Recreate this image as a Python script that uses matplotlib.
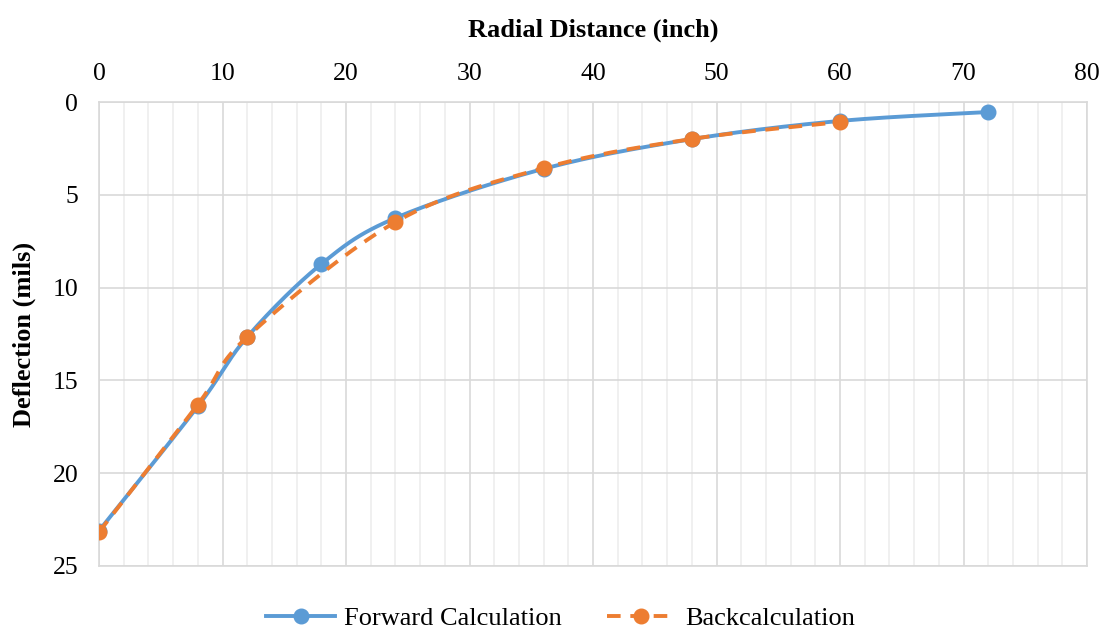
import matplotlib.pyplot as plt
import numpy as np
from matplotlib.ticker import MultipleLocator

plt.rcParams["font.family"] = ["Liberation Serif", "DejaVu Serif"]

# radial distance (inch) and deflection (mils)
fwd_x = [0, 8, 12, 18, 24, 36, 48, 60, 72]
fwd_y = [23.1, 16.4, 12.66, 8.73, 6.25, 3.6, 2.0, 1.02, 0.54]
back_x = [0, 8, 12, 24, 36, 48, 60]
back_y = [23.17, 16.3, 12.66, 6.47, 3.56, 1.99, 1.08]

BLUE = "#5B9BD5"
ORANGE = "#ED7D31"
DASH = (0, (3.5, 2.5))
LW = 2.8


def smooth(xs, ys, n=40):
    # catmull-rom style curve, similar to excel's smoothed line
    p = np.column_stack([xs, ys]).astype(float)
    p = np.vstack([p[0], p, p[-1]])
    out = []
    for i in range(1, len(p) - 2):
        p0, p1, p2, p3 = p[i - 1], p[i], p[i + 1], p[i + 2]
        c1 = p1 + (p2 - p0) / 6
        c2 = p2 - (p3 - p1) / 6
        t = np.linspace(0, 1, n)[:, None]
        seg = ((1 - t) ** 3) * p1 + 3 * ((1 - t) ** 2) * t * c1 \
            + 3 * (1 - t) * t ** 2 * c2 + t ** 3 * p2
        out.append(seg if i == 1 else seg[1:])
    out = np.vstack(out)
    return out[:, 0], out[:, 1]


fig = plt.figure(figsize=(11.1, 6.34), dpi=100)
ax = fig.add_axes([0.0892, 0.1073, 0.8901, 0.7318])

sx, sy = smooth(fwd_x, fwd_y)
ax.plot(sx, sy, color=BLUE, lw=LW, zorder=3)
ax.plot(fwd_x, fwd_y, "o", color=BLUE, ms=10.5, zorder=4)
bx, by = smooth(back_x, back_y)
ax.plot(bx, by, color=ORANGE, lw=LW, ls=DASH, zorder=5)
ax.plot(back_x, back_y, "o", color=ORANGE, ms=10.5, zorder=6)

ax.set_xlim(0, 80)
ax.set_ylim(25, 0)
ax.xaxis.set_major_locator(MultipleLocator(10))
ax.xaxis.set_minor_locator(MultipleLocator(2))
ax.yaxis.set_major_locator(MultipleLocator(5))
ax.xaxis.tick_top()
ax.xaxis.set_label_position("top")
ax.grid(which="major", color="#D9D9D9", lw=1.2)
ax.grid(which="minor", axis="x", color="#EEEEEE", lw=1.2)
ax.set_axisbelow(True)
for s in ax.spines.values():
    s.set_color("#D9D9D9")
    s.set_linewidth(1.2)
ax.tick_params(which="both", length=0, labelsize=18.5)
ax.tick_params(axis="x", pad=12.5)
ax.tick_params(axis="y", pad=15)

ax.set_xlabel("Radial Distance (inch)", fontsize=19, fontweight="bold", labelpad=19)
ax.set_ylabel("Deflection (mils)", fontsize=19, fontweight="bold", labelpad=12)

h1, = ax.plot([], [], color=BLUE, lw=LW, marker="o", ms=10.5)
h2, = ax.plot([], [], color=ORANGE, lw=LW, ls=DASH, marker="o", ms=10.5)
fig.legend([h1, h2], ["Forward Calculation", "Backcalculation"],
           loc="center", bbox_to_anchor=(0.505, 0.025), ncol=2, frameon=False,
           fontsize=19, handlelength=2.6, columnspacing=1.7, handletextpad=0.35)

fig.savefig("out.png")
